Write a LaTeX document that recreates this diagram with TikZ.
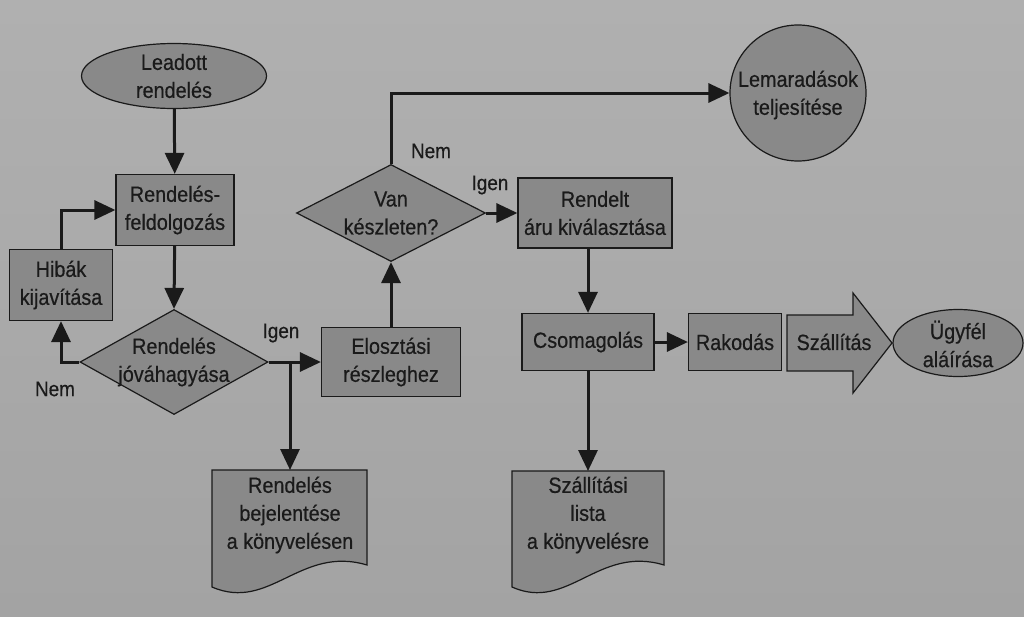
\documentclass[tikz,border=0pt]{standalone}
\usepackage{fontspec}
\setmainfont{Liberation Sans}[FakeStretch=0.9,FakeBold=0.5]
\usetikzlibrary{shapes.geometric,arrows.meta,calc}
\definecolor{bgtop}{HTML}{B0B0B0}
\definecolor{bgbot}{HTML}{A3A3A3}
\definecolor{fillc}{HTML}{898989}
\definecolor{ink}{HTML}{1A1A1A}
\begin{document}
\begin{tikzpicture}[x=1pt,y=-1pt,
  every node/.style={font=\fontsize{22}{28}\selectfont, text=ink, align=center, inner sep=0pt},
  shapebox/.style={draw=ink, line width=1.2pt, fill=fillc},
  conn/.style={draw=ink, line width=3pt, -{Triangle[length=21pt,width=19pt]}},
  lbl/.style={font=\fontsize{21}{26}\selectfont}]
\useasboundingbox (0,0) rectangle (1024,616);
\shade[top color=bgtop, bottom color=bgbot] (0,0) rectangle (1024,616);

% nodes
\node[shapebox, ellipse, minimum width=185, minimum height=65] (lead) at (174,76) {Leadott\\rendelés};
\node[shapebox, minimum width=118, minimum height=71] (feld) at (175,210) {Rendelés-\\feldolgozás};
\node[shapebox, minimum width=103, minimum height=71] (hiba) at (61,285) {Hibák\\kijavítása};
\node[shapebox, diamond, aspect=1.8, minimum width=188, minimum height=105] (jova) at (174,362) {};
\node (jovaT) at (174,362) {Rendelés\\jóváhagyása};
\node[shapebox, minimum width=139, minimum height=69] (elo) at (391,362) {Elosztási\\részleghez};
\node[shapebox, diamond, aspect=1.95, minimum width=189, minimum height=97] (van) at (391,213) {};
\node (vanT) at (391,213) {Van\\készleten?};
\node[shapebox, minimum width=154, minimum height=70] (rend) at (595,213) {Rendelt\\áru kiválasztása};
\node[shapebox, circle, minimum size=136] (lem) at (798,93) {};
\node (lemT) at (798,95) {Lemaradások\\teljesítése};
\node[shapebox, minimum width=132, minimum height=57] (csom) at (588,342) {Csomagolás};
\node[shapebox, minimum width=93, minimum height=57] (rak) at (735,342) {Rakodás};
\fill[shapebox] (787,315) -- (853,315) -- (853,293) -- (892,343) -- (853,393) -- (853,371) -- (787,371) -- cycle;
\node (szall) at (834,342) {Szállítás};
\node[shapebox, ellipse, minimum width=130, minimum height=67] (ugy) at (958,343) {};
\node (ugyT) at (958,344) {Ügyfél\\aláírása};

% documents
\fill[shapebox] (212,470) -- (367,470) -- (367,565) .. controls (300,545) and (270,612) .. (212,587) -- cycle;
\node[minimum width=155, minimum height=90, anchor=north] (doc1) at (290,470) {};
\node (doc1T) at (290,515) {Rendelés\\bejelentése\\a könyvelésen};
\fill[shapebox] (512,471) -- (664,471) -- (664,565) .. controls (598,545) and (568,612) .. (512,587) -- cycle;
\node[minimum width=152, minimum height=90, anchor=north] (doc2) at (588,471) {};
\node (doc2T) at (588,515) {Szállítási\\lista\\a könyvelésre};

% connectors
\coordinate (br) at (290,362);
\draw[conn] (lead) -- (feld);
\draw[conn] (feld) -- (jova.north);
\draw[conn] (jova.west) -| (hiba.south);
\draw[conn] (hiba.north) |- (feld.west);
\draw[conn] (jova.east) -- (elo.west);
\draw[conn] (br) -- (doc1.north);
\draw[conn] (elo.north) -- (van.south);
\draw[conn] (van.north) |- (lem.west);
\draw[conn] (van.east) -- (rend.west);
\draw[conn] (rend.south -| csom.north) -- (csom.north);
\draw[conn] (csom.east) -- (rak.west);
\draw[conn] (csom.south) -- (doc2.north);

% labels
\node[lbl] (l1) at (55,389) {Nem};
\node[lbl] (l2) at (281,333) {Igen};
\node[lbl] (l3) at (431,151) {Nem};
\node[lbl] (l4) at (490,185) {Igen};
\end{tikzpicture}
\end{document}
